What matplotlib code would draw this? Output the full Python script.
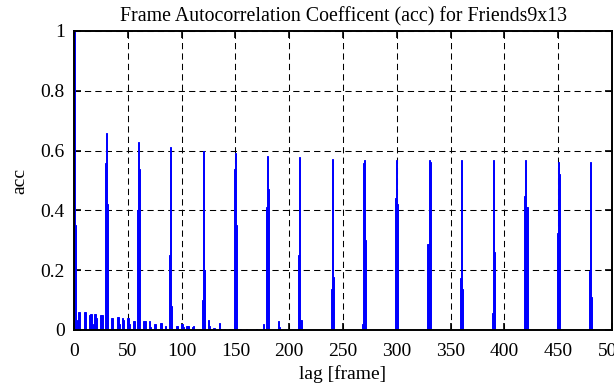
import numpy as np
import matplotlib
matplotlib.use('Agg')
import matplotlib.pyplot as plt

plt.rcParams['font.family'] = ['Liberation Serif', 'DejaVu Serif']

# Peaks around multiples of 30 frames (lag -> acc)
peak_lags = [0, 1,
             29, 30, 31,
             59, 60, 61,
             89, 90, 91,
             119, 120, 121,
             149, 150, 151,
             179, 180, 181,
             209, 210, 211,
             239, 240, 241,
             268, 269, 270, 271,
             299, 300, 301,
             329, 330, 331,
             359, 360, 361,
             389, 390, 391,
             419, 420, 421,
             449, 450, 451,
             479, 480, 481]
peak_acc = [1.0, 0.35,
            0.56, 0.66, 0.42,
            0.40, 0.63, 0.54,
            0.25, 0.613, 0.08,
            0.10, 0.597, 0.20,
            0.54, 0.593, 0.35,
            0.413, 0.583, 0.47,
            0.25, 0.577, 0.033,
            0.137, 0.573, 0.177,
            0.02, 0.557, 0.57, 0.30,
            0.44, 0.57, 0.423,
            0.287, 0.567, 0.563,
            0.173, 0.567, 0.137,
            0.057, 0.567, 0.26,
            0.447, 0.567, 0.413,
            0.323, 0.563, 0.523,
            0.197, 0.563, 0.11]

# Small side lobes between the peaks
small_lags = [3, 4, 5, 10, 11, 14, 15, 16, 18, 19, 20, 21, 25, 26,
              35, 36, 40, 41, 42, 45, 46, 50, 51, 52, 55, 56,
              65, 66, 70, 71, 75, 76, 80, 81, 85, 86,
              95, 96, 100, 101, 102, 105, 106, 110, 111,
              125, 126, 130, 131, 135, 136, 140, 145, 146,
              155, 160, 170, 176, 190, 191]
small_acc = [0.035, 0.06, 0.06, 0.06, 0.06, 0.05, 0.055, 0.055, 0.02, 0.055, 0.055, 0.04, 0.05, 0.05,
             0.04, 0.04, 0.045, 0.045, 0.02, 0.04, 0.035, 0.04, 0.04, 0.02, 0.03, 0.03,
             0.03, 0.03, 0.03, 0.01, 0.02, 0.02, 0.025, 0.025, 0.015, 0.005,
             0.015, 0.015, 0.02, 0.02, 0.01, 0.012, 0.012, 0.01, 0.012,
             0.033, 0.015, 0.008, 0.008, 0.025, 0.005, 0.005, 0.005, 0.005,
             0.003, 0.003, 0.003, 0.02, 0.03, 0.01]

lags = np.array(peak_lags + small_lags)
acc = np.array(peak_acc + small_acc)

fig = plt.figure(figsize=(6.14, 3.85), dpi=100)
ax = fig.add_axes([74 / 614, 55 / 385, 538 / 614, 299 / 385])

ax.bar(lags, acc, width=1.0, color='blue', edgecolor='blue', linewidth=0.7, zorder=3)

ax.set_xlim(0, 500)
ax.set_ylim(0, 1)
ax.set_xticks(np.arange(0, 501, 50))
ax.set_yticks([0, 0.2, 0.4, 0.6, 0.8, 1])
ax.set_yticklabels(['0', '0.2', '0.4', '0.6', '0.8', '1'])
ax.grid(True, color='black', linestyle=(0, (6, 4)), linewidth=0.75)
ax.tick_params(direction='in', length=5, width=1.2, top=True, right=True,
               labelsize=14)
ax.tick_params(axis='x', pad=9)
ax.tick_params(axis='y', pad=6.5)
for s in ax.spines.values():
    s.set_linewidth(1.4)
    s.set_zorder(4)

ax.set_title('Frame Autocorrelation Coefficent (acc) for Friends9x13', fontsize=14.3, pad=7)
ax.set_xlabel('lag [frame]', fontsize=14, labelpad=4)
ax.set_ylabel('acc', fontsize=14, labelpad=9)

fig.savefig('out.png', dpi=100)
